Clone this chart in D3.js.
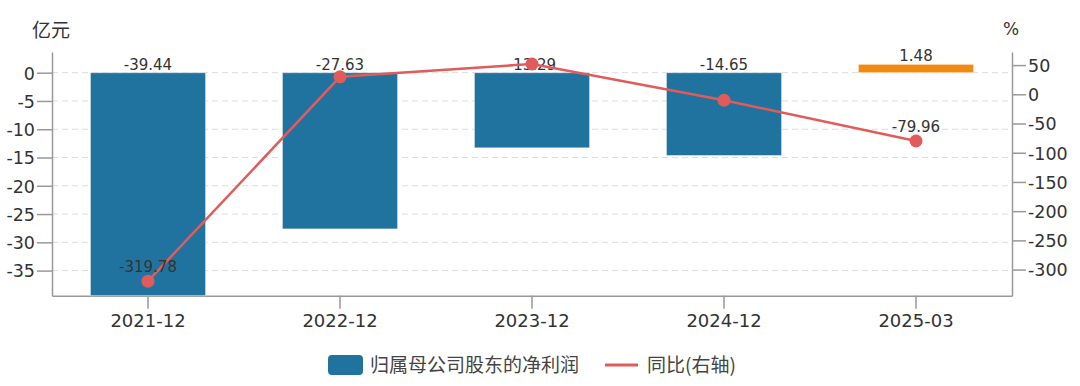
<!DOCTYPE html>
<html>
<head>
<meta charset="utf-8">
<script src="https://cdn.jsdelivr.net/npm/d3@7"></script>
<style>
  body { margin: 0; background: #fff; }
  svg text { font-family: "DejaVu Sans", "Noto Sans CJK SC", sans-serif; fill: #333; }
  .cjk { font-family: "Noto Sans CJK SC", sans-serif; }
</style>
</head>
<body>
<div id="chart"></div>
<script>
// data
var categories = ["2021-12", "2022-12", "2023-12", "2024-12", "2025-03"];
var netProfit = [-39.44, -27.63, -13.29, -14.65, 1.48];      // 亿元
var yoy = [-319.78, 29.94, 51.9, -10.23, -79.96];             // %
var yoyLabelShown = [true, false, false, false, true];
var leftTicks = [0, -5, -10, -15, -20, -25, -30, -35];
var rightTicks = [50, 0, -50, -100, -150, -200, -250, -300];

var width = 1080, height = 386;
var margin = {top: 52, right: 68, bottom: 90, left: 52};
var plotW = width - margin.left - margin.right,
    plotBottom = 295.7;

// plain hyphen as minus sign
var locale = d3.formatLocale({decimal: ".", thousands: ",", grouping: [3], currency: ["", ""], minus: "-"});
var fmtInt = locale.format("d"),
    fmt2 = locale.format(".2f");

var svg = d3.select("#chart").append("svg")
    .attr("width", width)
    .attr("height", height);

var x = d3.scaleBand()
    .domain(categories)
    .range([margin.left, margin.left + plotW])
    .paddingInner(0.4)
    .paddingOuter(0.2);

var xPoint = function(c) { return x(c) + x.bandwidth() / 2; };

var yL = d3.scaleLinear().domain([-39.44, 3.66]).range([plotBottom, margin.top]);
var yR = d3.scaleLinear().domain([-344.7, 72.4]).range([plotBottom, margin.top]);

var blue = "#21739f", orange = "#f28a12", red = "#e25b5b";

// gridlines
svg.append("g")
  .selectAll("line")
  .data(leftTicks)
  .enter().append("line")
    .attr("x1", margin.left)
    .attr("x2", margin.left + plotW)
    .attr("y1", function(d) { return yL(d); })
    .attr("y2", function(d) { return yL(d); })
    .style("stroke", "#dcdcdc")
    .style("stroke-width", 1)
    .style("stroke-dasharray", "6,4");

// left axis
var leftAxis = svg.append("g")
    .attr("transform", "translate(" + margin.left + ",0)")
    .call(d3.axisLeft(yL).tickValues(leftTicks).tickSize(15).tickSizeOuter(0).tickPadding(2).tickFormat(fmtInt));

// right axis
var rightAxis = svg.append("g")
    .attr("transform", "translate(" + (margin.left + plotW) + ",0)")
    .call(d3.axisRight(yR).tickValues(rightTicks).tickSize(14).tickSizeOuter(0).tickPadding(2).tickFormat(fmtInt));

// bottom axis
var bottomAxis = svg.append("g")
    .attr("transform", "translate(0," + plotBottom + ")")
    .call(d3.axisBottom(x).tickSize(13).tickSizeOuter(0).tickPadding(6));

[leftAxis, rightAxis, bottomAxis].forEach(function(g) {
  g.select(".domain").style("stroke", "#999").style("stroke-width", 1.5);
  g.selectAll(".tick line").style("stroke", "#999").style("stroke-width", 1.5);
  g.selectAll(".tick text")
    .style("font-family", "DejaVu Sans")
    .style("font-size", "17.5px")
    .style("fill", "#333");
});
bottomAxis.selectAll(".tick text").style("font-size", "18px");
leftAxis.selectAll(".tick text").attr("dy", "0.36em");
rightAxis.selectAll(".tick text").attr("dy", "0.36em");

// axis titles
svg.append("text")
    .attr("class", "cjk")
    .attr("x", 32).attr("y", 37)
    .style("font-size", "19px")
    .text("亿元");
svg.append("text")
    .attr("x", 1003).attr("y", 35)
    .style("font-size", "17px")
    .text("%");

// bars
svg.append("g")
  .selectAll("rect")
  .data(netProfit)
  .enter().append("rect")
    .attr("x", function(d, i) { return x(categories[i]); })
    .attr("width", x.bandwidth())
    .attr("y", function(d) { return yL(Math.max(0, d)); })
    .attr("height", function(d) { return Math.abs(yL(d) - yL(0)); })
    .style("fill", function(d) { return d >= 0 ? orange : blue; })
    .style("stroke", "rgba(255,255,255,0.5)")
    .style("stroke-width", 1);

// bar labels
svg.append("g")
  .selectAll("text")
  .data(netProfit)
  .enter().append("text")
    .attr("x", function(d, i) { return xPoint(categories[i]); })
    .attr("y", function(d) { return Math.min(yL(0), yL(d)) - 3; })
    .attr("text-anchor", "middle")
    .style("font-size", "15px")
    .text(function(d) { return fmt2(d); });

// yoy line
var line = d3.line()
    .x(function(d, i) { return xPoint(categories[i]); })
    .y(function(d) { return yR(d); });

svg.append("path")
    .datum(yoy)
    .attr("d", line)
    .style("fill", "none")
    .style("stroke", red)
    .style("stroke-width", 2.5);

svg.append("g")
  .selectAll("circle")
  .data(yoy)
  .enter().append("circle")
    .attr("cx", function(d, i) { return xPoint(categories[i]); })
    .attr("cy", function(d) { return yR(d); })
    .attr("r", 6.5)
    .style("fill", red);

svg.append("g")
  .selectAll("text")
  .data(yoy)
  .enter().append("text")
    .filter(function(d, i) { return yoyLabelShown[i]; })
    .attr("x", function(d) { return xPoint(categories[yoy.indexOf(d)]); })
    .attr("y", function(d) { return yR(d) - 9; })
    .attr("text-anchor", "middle")
    .style("font-size", "15px")
    .text(function(d) { return fmt2(d); });

// legend
var legend = svg.append("g");
legend.append("rect")
    .attr("x", 328).attr("y", 355)
    .attr("width", 35).attr("height", 20)
    .attr("rx", 4)
    .style("fill", blue);
legend.append("text")
    .attr("class", "cjk")
    .attr("x", 370).attr("y", 372)
    .style("font-size", "19px")
    .style("fill", "#444")
    .text("归属母公司股东的净利润");
legend.append("line")
    .attr("x1", 605).attr("x2", 638)
    .attr("y1", 365).attr("y2", 365)
    .style("stroke", red)
    .style("stroke-width", 3);
legend.append("text")
    .attr("class", "cjk")
    .attr("x", 647).attr("y", 372)
    .style("font-size", "19px")
    .style("fill", "#444")
    .text("同比(右轴)");
</script>
</body>
</html>
